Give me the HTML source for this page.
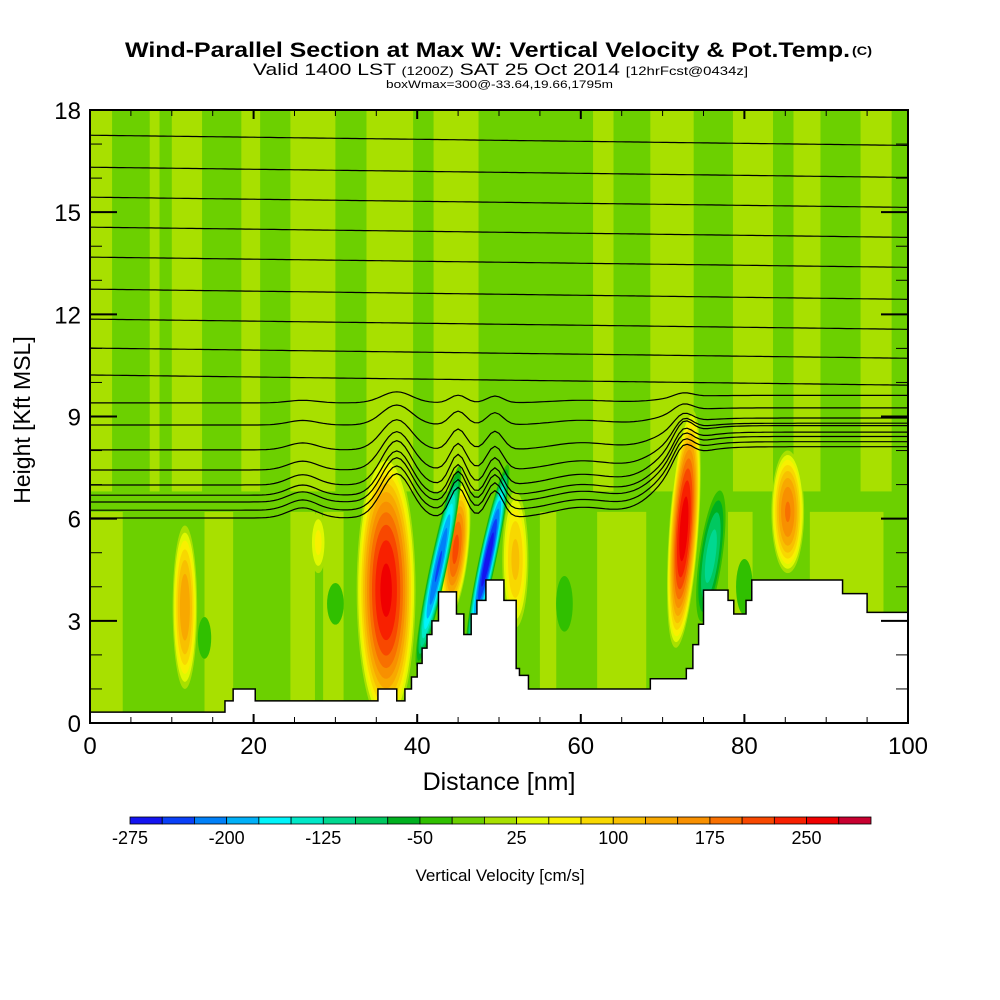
<!DOCTYPE html>
<html><head><meta charset="utf-8"><style>
html,body{margin:0;padding:0;background:#fff;width:1000px;height:1000px;overflow:hidden}
svg{display:block;font-family:"Liberation Sans",Arial,sans-serif}
</style></head><body>
<svg id="chart" width="1000" height="1000" viewBox="0 0 1000 1000">
<text x="125" y="57" font-size="21" font-weight="bold" textLength="725" lengthAdjust="spacingAndGlyphs">Wind-Parallel Section at Max W: Vertical Velocity &amp; Pot.Temp.</text>
<text x="852" y="55" font-size="12" font-weight="bold" textLength="20" lengthAdjust="spacingAndGlyphs">(C)</text>
<text x="253" y="75" font-size="17" textLength="495" lengthAdjust="spacingAndGlyphs">Valid 1400 LST <tspan font-size="12">(1200Z)</tspan> SAT 25 Oct 2014 <tspan font-size="12">[12hrFcst@0434z]</tspan></text>
<text x="386" y="88" font-size="11" textLength="227" lengthAdjust="spacingAndGlyphs">boxWmax=300@-33.64,19.66,1795m</text>
<defs><clipPath id="plotclip"><rect x="90" y="110" width="818" height="613"/></clipPath></defs>
<g id="field" clip-path="url(#plotclip)"></g>
<g id="isen" clip-path="url(#plotclip)"></g>
<g id="terrain" clip-path="url(#plotclip)"></g>
<g id="axes"></g>
<g id="cbar"></g>
<text x="30" y="420" font-size="23" text-anchor="middle" transform="rotate(-90 30 420)">Height [Kft MSL]</text>
<text x="499" y="790" font-size="25" text-anchor="middle">Distance [nm]</text>
<text x="500" y="881" font-size="17" text-anchor="middle">Vertical Velocity [cm/s]</text>
</svg>
<script>
// ---- data ----
const xTicks=[0,20,40,60,80,100];
const yTicks=[0,3,6,9,12,15,18];
const cbLevels=[-275,-250,-225,-200,-175,-150,-125,-100,-75,-50,-25,0,25,50,75,100,125,150,175,200,225,250,275,300];
const cbLabels=[-275,-200,-125,-50,25,100,175,250];
const cbColors=["#1414f0","#0a40f8","#0080f8","#00b0f8","#00f4fa","#00e8c8","#00d890","#00c860","#00b020","#30c000","#6cd000","#a8e000","#e0f800","#f8f000","#f8d800","#f8c000","#f8a800","#f89000","#f87000","#f84800","#f82000","#f00000","#c80030"];
// upper vertical stripes [x0 nm, x1 nm, value cm/s]
const stripeX0=[2.7,8.5,13.7,20.8,30,39.5,47.5,55.5,64,73.8,83.5,89.3,98];
const stripeX1=[7.3,10,18.5,24.5,33.8,42,56.5,61.5,68.5,78.6,86,94.2,100];
const stripeV=[-10,-10,-10,-10,-10,-10,-10,-10,-10,-10,-10,-10,-10];
// lower light patches
const lowX0=[0,14,24.5,28.5,55,62,78,88];
const lowX1=[4,17.5,27.5,31,57,68,81,97];
const lowV=[10,10,10,10,10,10,10,10];
// blobs: center x nm, center z kft, half-width nm, half-height kft, peak, tilt deg
const blobX=[35,30,58,14,80,11.6,36.2,44.7,52,72.6,85.3,27.9,42.6,48.6,75.9];
const blobZ=[5,3.5,3.5,2.5,4,3.4,3.9,5.1,4.8,5.7,6.2,5.3,4.6,4.8,4.9];
const blobW=[2.5,2.5,2.5,2,2.5,1.5,3.6,1.6,1.6,1.8,2.0,1.0,1.1,1.1,1.6];
const blobH=[2.5,1.5,2,1.5,2,2.4,4.0,2.0,2.0,3.5,1.8,0.9,3.2,3.0,2.2];
const blobP=[-35,-30,-30,-30,-30,150,260,210,110,270,180,60,-230,-270,-115];
const blobT=[0,0,0,0,0,0,0,6,0,4,0,0,12,12,8];
// terrain step profile: x nm (step starts) and height kft
const terrX=[0,16.5,17.5,20.2,35.2,37.5,38.5,39.3,40,40.6,41.2,41.8,42.6,43.8,44.8,45.7,46.6,47.3,48.4,50.6,52.1,52.5,53.6,55.4,61.6,68.5,69.5,72.9,73.7,74.4,75,78,78.7,80.2,80.9,82.8,92,95];
const terrZ=[0.32,0.65,1.0,0.65,1.0,0.65,1.0,1.35,1.75,2.2,2.6,3.0,3.85,3.85,3.2,2.6,3.2,3.6,4.2,3.6,1.6,1.4,1.0,1.0,1.0,1.3,1.3,1.6,2.3,2.9,3.9,3.6,3.2,3.6,4.2,4.2,3.8,3.25];
// isentropes: base heights (kft) at left edge
const isenBase=[17.26,16.32,15.44,14.56,13.68,12.74,11.86,11.01,10.22,9.40,8.75,8.02,7.43,6.99,6.69,6.49,6.25,6.02];
// isentrope bumps: x nm, amplitude kft, width nm
const bumpX=[26,37.5,45,49.5,72.5,60];
const bumpA=[0.3,1.3,0.9,0.8,0.5,0.3];
const bumpW=[2.5,2.6,1.4,1.4,1.6,5];
const rampGain=1.2;
// ---- axes ----
const X0=90,X1=908,Y0=723,Y1=110;
const sx=v=>X0+(v-0)/100*(X1-X0);
const sy=v=>Y0-(v/18)*(Y0-Y1);
const NS="http://www.w3.org/2000/svg";
function mk(tag,attrs,parent){const e=document.createElementNS(NS,tag);for(const k in attrs)e.setAttribute(k,attrs[k]);parent.appendChild(e);return e;}
function colorOf(v){let i=Math.floor((v+275)/25);i=Math.max(0,Math.min(cbColors.length-1,i));return cbColors[i];}
const F=document.getElementById('field');
const bg=mk('rect',{x:X0,y:Y1,width:X1-X0,height:Y0-Y1,fill:colorOf(10)},F);


for(let i=0;i<stripeX0.length;i++){
  const r=mk('rect',{x:sx(stripeX0[i]),y:Y1,width:sx(stripeX1[i])-sx(stripeX0[i]),height:sy(6.5)-Y1,fill:colorOf(stripeV[i])},F);
  
  
}
const lowBand=mk('rect',{x:X0,y:sy(6.8),width:X1-X0,height:sy(0)-sy(6.8),fill:colorOf(-10)},F);


for(let i=0;i<lowX0.length;i++){
  const r=mk('rect',{x:sx(lowX0[i]),y:sy(6.2),width:sx(lowX1[i])-sx(lowX0[i]),height:sy(0)-sy(6.2),fill:colorOf(lowV[i])},F);
  
  
}
for(let i=0;i<blobX.length;i++){
  const p=blobP[i],sgn=p>0?1:-1;
  const cx=sx(blobX[i]),cy=sy(blobZ[i]);
  const rx=blobW[i]/100*(X1-X0),ry=blobH[i]/18*(Y0-Y1);
  const g=mk('g',{transform:`rotate(${blobT[i]} ${cx} ${cy})`},F);
  
  
  const start=sgn>0?0:-25;
  for(let v=start;sgn>0?v<p:v>p;v+=25*sgn){
    const f=Math.sqrt(1-Math.abs(v)/Math.abs(p));
    const e=mk('ellipse',{cx:cx,cy:cy,rx:rx*f,ry:ry*f,fill:colorOf(v+sgn*1)},g);
    
    
  }
}
const I=document.getElementById('isen');
function disp(x,h){
  const fac=Math.max(0,Math.min(1,(10.2-h)/3.2));
  let d=0;
  for(let j=0;j<bumpX.length;j++){d+=bumpA[j]*Math.exp(-Math.pow((x-bumpX[j])/bumpW[j],2));}
  const ramp=1/(1+Math.exp(-(x-70)/2.0));
  return fac*(d+rampGain*ramp*(1+(8.5-h)*0.3));
}
for(let k=0;k<isenBase.length;k++){
  let pts=[];
  for(let x=0;x<=100;x+=0.5){pts.push(sx(x).toFixed(1)+','+sy(isenBase[k]+disp(x,isenBase[k])-(isenBase[k]>10?x*0.003:0)).toFixed(1));}
  const pl=mk('polyline',{points:pts.join(' '),fill:'none',stroke:'#000','stroke-width':1.2},I);
  
  
}
const T=document.getElementById('terrain');
let tp=[sx(0)+','+sy(-1)];
for(let i=0;i<terrX.length;i++){
  const x0=terrX[i],x1=i+1<terrX.length?terrX[i+1]:100;
  tp.push(sx(x0)+','+sy(terrZ[i]));tp.push(sx(x1)+','+sy(terrZ[i]));
}
tp.push(sx(100)+','+sy(-1));
const tpoly=mk('polygon',{points:tp.join(' '),fill:'#fff',stroke:'#000','stroke-width':1.5},T);


const A=document.getElementById('axes');
const frame=mk('rect',{x:X0,y:Y1,width:X1-X0,height:Y0-Y1,fill:'none',stroke:'#000','stroke-width':2},A);


for(let v=0;v<=100;v+=5){
  const big=v%20===0,len=big?9:6;
  const t1=mk('line',{x1:sx(v),x2:sx(v),y1:Y0,y2:Y0-len,stroke:'#000','stroke-width':big?2:1},A);
  
  
  const t2=mk('line',{x1:sx(v),x2:sx(v),y1:Y1,y2:Y1+len,stroke:'#000','stroke-width':big?2:1},A);
  
  
}
for(let v=0;v<=18;v+=1){
  const big=v%3===0,len=big?27:12;
  const t1=mk('line',{x1:X0,x2:X0+len,y1:sy(v),y2:sy(v),stroke:'#000','stroke-width':big?2:1},A);
  
  
  const t2=mk('line',{x1:X1,x2:X1-len,y1:sy(v),y2:sy(v),stroke:'#000','stroke-width':big?2:1},A);
  
  
}
xTicks.forEach(v=>{
  const t=mk('text',{x:sx(v),y:754,'font-size':24,'text-anchor':'middle'},A);t.textContent=v;
  
  
});
yTicks.forEach(v=>{
  const t=mk('text',{x:81,y:sy(v)+9,'font-size':24,'text-anchor':'end'},A);t.textContent=v;
  
  
});
const C=document.getElementById('cbar');
const cbx0=130,cbx1=871,cw=(cbx1-cbx0)/cbColors.length;
const cbpos=v=>cbx0+(v-cbLevels[0])/(cbLevels[cbLevels.length-1]-cbLevels[0])*(cbx1-cbx0);
cbColors.forEach((c,i)=>{
  const r=mk('rect',{x:cbpos(cbLevels[i]),y:817,width:cw,height:7,fill:c,stroke:'#000','stroke-width':0.8},C);
  
  
});
cbLabels.forEach(v=>{
  const t=mk('text',{x:cbpos(v),y:844,'font-size':18,'text-anchor':'middle'},C);t.textContent=v;
  
  
});
</script>
</body></html>
